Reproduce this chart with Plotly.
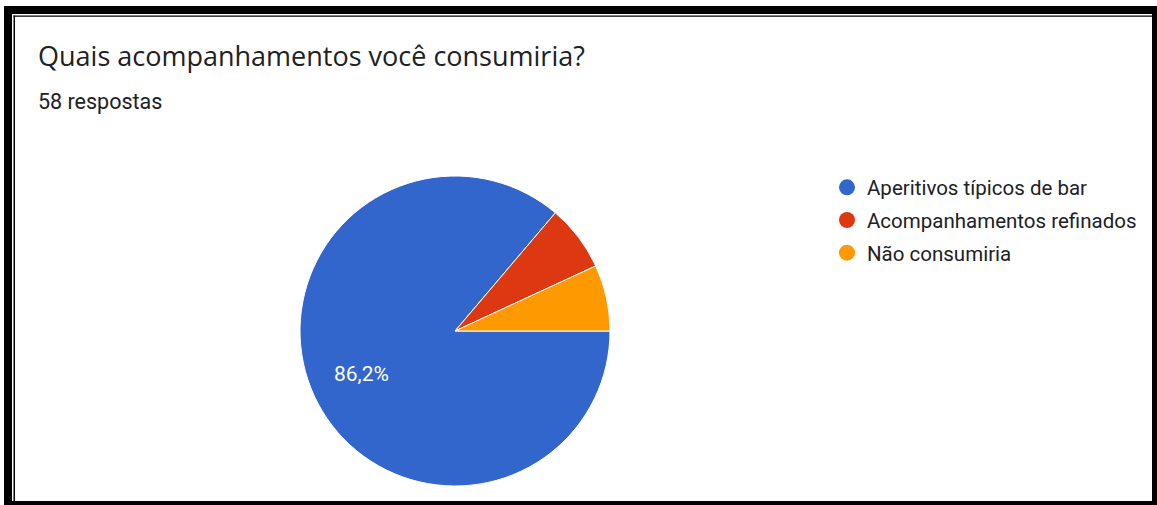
import math
import plotly.graph_objects as go

W, H = 1157, 505

title = "Quais acompanhamentos você consumiria?"
subtitle = "58 respostas"
categories = ["Aperitivos típicos de bar", "Acompanhamentos refinados", "Não consumiria"]
counts = [50, 4, 4]
labels_shown = ["86,2%", "", ""]
colors = ["#3366cc", "#dc3912", "#ff9900"]

# pie geometry (pixels)
PX0, PX1, PY0, PY1 = 300, 610, 176, 486
ROT = 90

fig = go.Figure()
fig.add_trace(go.Pie(
    labels=categories, values=counts, sort=False, direction="clockwise", rotation=ROT,
    marker=dict(colors=colors, line=dict(color="white", width=1)),
    textinfo="none",
    showlegend=False, hoverinfo="label+percent",
    domain=dict(x=[PX0 / W, PX1 / W], y=[1 - PY1 / H, 1 - PY0 / H]),
))
for c, col in zip(categories, colors):
    fig.add_trace(go.Scatter(
        x=[None], y=[None], mode="markers", name=c, legendgroup=c,
        marker=dict(symbol="circle", size=20, color=col),
    ))

# slice labels placed from the data (mid-angle of each slice)
cx, cy, R = (PX0 + PX1) / 2, (PY0 + PY1) / 2, (PX1 - PX0) / 2
total = sum(counts)
start = ROT
for v, lab in zip(counts, labels_shown):
    ang = start + 360 * v / total / 2
    start += 360 * v / total
    if not lab:
        continue
    r = 0.667 * R
    px = cx + r * math.sin(math.radians(ang))
    py = cy - r * math.cos(math.radians(ang))
    fig.add_annotation(text=lab, x=px / W, y=1 - py / H, xref="paper", yref="paper",
                       xanchor="center", yanchor="middle", showarrow=False,
                       font=dict(family="Roboto", size=21, color="white"))

fig.update_layout(
    width=W, height=H, margin=dict(l=0, r=0, t=0, b=0),
    paper_bgcolor="white", plot_bgcolor="white",
    xaxis=dict(visible=False), yaxis=dict(visible=False),
    legend=dict(x=827 / W, y=1 - 167.5 / H, xanchor="left", yanchor="top",
                font=dict(family="Roboto", size=20.5, color="#202124"),
                itemwidth=30, tracegroupgap=3, bgcolor="rgba(0,0,0,0)"),
    font=dict(family="Roboto"),
)

# title texts
fig.add_annotation(text=title, x=36 / W, y=1 - 34.5 / H, xref="paper", yref="paper",
                   xanchor="left", yanchor="top", showarrow=False,
                   font=dict(family="Open Sans", size=27, color="#202124"))
fig.add_annotation(text=subtitle, x=36 / W, y=1 - 87 / H, xref="paper", yref="paper",
                   xanchor="left", yanchor="top", showarrow=False,
                   font=dict(family="Roboto", size=21.5, color="#202124"))

# frame
frame = [
    (4, 6, 12, 505),       # left thick
    (4, 6, 1157, 14),      # top thick
    (1152, 6, 1157, 505),  # right thick
    (12, 501, 1157, 505),  # bottom thick
    (13.5, 15.5, 15, 501), # left thin
    (13.5, 15.5, 1152, 16.7),  # top thin
]
for x0, y0, x1, y1 in frame:
    fig.add_shape(type="rect", xref="paper", yref="paper",
                  x0=x0 / W, x1=x1 / W, y0=1 - y1 / H, y1=1 - y0 / H,
                  fillcolor="black", line=dict(width=0), layer="above")

fig.write_html("out.html")
